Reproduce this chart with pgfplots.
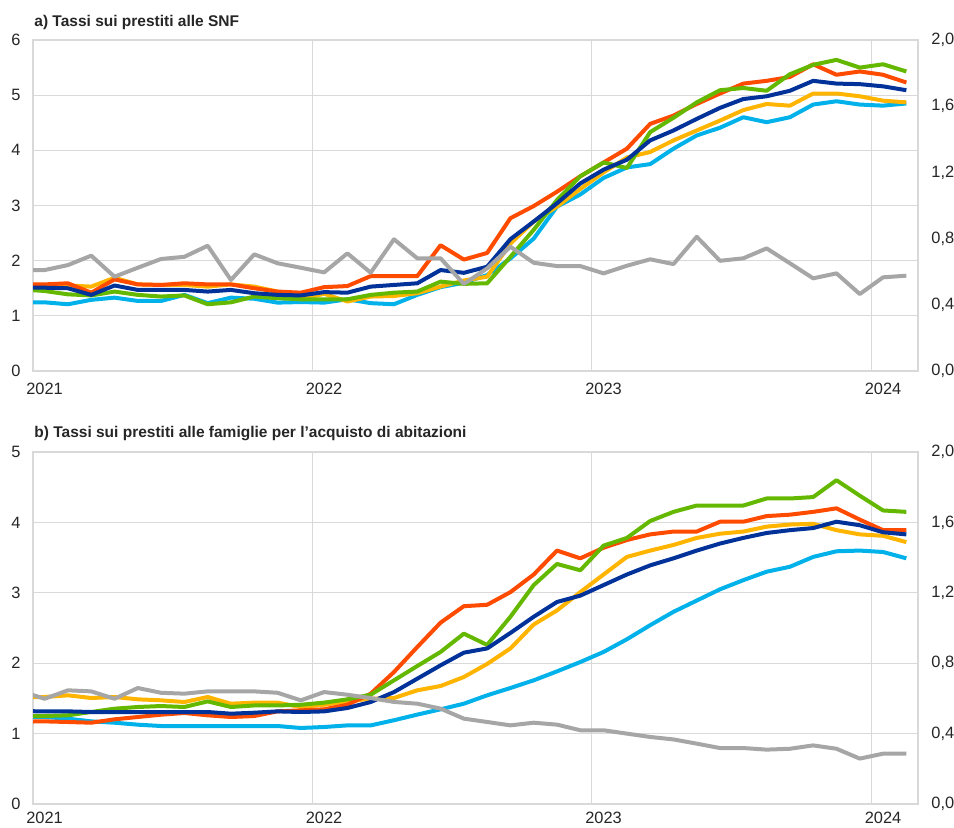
\documentclass[border=0pt]{standalone}
\usepackage{fontspec}
\setmainfont{Liberation Sans}
\usepackage{pgfplots}
\pgfplotsset{compat=1.18}
\usepackage{pgfplotstable}

\definecolor{cblue}{HTML}{003299}
\definecolor{corange}{HTML}{FF4B00}
\definecolor{cyellow}{HTML}{FFB400}
\definecolor{cgreen}{HTML}{65B800}
\definecolor{clblue}{HTML}{00B1EA}
\definecolor{cgray}{HTML}{A6A6A6}
\definecolor{gridc}{HTML}{D9D9D9}
\definecolor{txt}{HTML}{262626}

\pgfplotstableread{
x b o y g l gr
-0.5 1.51 1.57 1.56 1.48 1.245 0.610
0.5 1.51 1.57 1.56 1.45 1.245 0.610
1.5 1.50 1.59 1.55 1.39 1.21 0.640
2.5 1.38 1.42 1.53 1.37 1.29 0.697
3.5 1.55 1.66 1.69 1.44 1.33 0.570
4.5 1.47 1.57 1.57 1.38 1.27 0.624
5.5 1.47 1.56 1.56 1.35 1.27 0.677
6.5 1.47 1.59 1.56 1.37 1.38 0.690
7.5 1.44 1.57 1.53 1.21 1.23 0.757
8.5 1.47 1.57 1.57 1.245 1.33 0.550
9.5 1.41 1.50 1.53 1.35 1.31 0.705
10.5 1.38 1.44 1.44 1.32 1.24 0.651
11.5 1.37 1.42 1.30 1.30 1.25 0.624
12.5 1.43 1.52 1.40 1.30 1.24 0.596
13.5 1.42 1.54 1.26 1.30 1.30 0.711
14.5 1.53 1.72 1.35 1.38 1.23 0.594
15.5 1.56 1.72 1.36 1.42 1.21 0.796
16.5 1.59 1.72 1.41 1.44 1.38 0.681
17.5 1.83 2.28 1.53 1.62 1.52 0.681
18.5 1.78 2.02 1.64 1.58 1.60 0.526
19.5 1.89 2.14 1.71 1.59 1.74 0.620
20.5 2.39 2.77 2.31 2.07 2.04 0.751
21.5 2.71 2.99 2.71 2.56 2.40 0.654
22.5 3.04 3.25 2.98 3.10 2.98 0.634
23.5 3.40 3.53 3.30 3.53 3.20 0.634
24.5 3.65 3.78 3.60 3.78 3.50 0.590
25.5 3.83 4.03 3.87 3.68 3.69 0.636
26.5 4.18 4.48 3.97 4.33 3.75 0.675
27.5 4.36 4.63 4.18 4.59 4.03 0.646
28.5 4.57 4.84 4.36 4.87 4.27 0.811
29.5 4.77 5.03 4.54 5.09 4.41 0.666
30.5 4.93 5.21 4.73 5.13 4.60 0.681
31.5 4.98 5.26 4.84 5.08 4.51 0.741
32.5 5.08 5.33 4.81 5.38 4.60 0.651
33.5 5.26 5.56 5.03 5.55 4.83 0.560
34.5 5.21 5.37 5.03 5.64 4.89 0.590
35.5 5.20 5.43 4.98 5.50 4.83 0.465
36.5 5.16 5.37 4.90 5.56 4.81 0.566
37.5 5.09 5.23 4.87 5.43 4.85 0.576
}\tabA

\pgfplotstableread{
x b o y g l gr
-0.5 1.32 1.17 1.52 1.25 1.24 0.640
0.5 1.316 1.174 1.52 1.25 1.236 0.598
1.5 1.316 1.165 1.544 1.26 1.212 0.646
2.5 1.307 1.155 1.506 1.307 1.174 0.640
3.5 1.307 1.203 1.52 1.354 1.155 0.598
4.5 1.307 1.236 1.487 1.378 1.127 0.659
5.5 1.307 1.269 1.473 1.392 1.108 0.632
6.5 1.307 1.293 1.449 1.378 1.108 0.627
7.5 1.307 1.26 1.52 1.458 1.108 0.640
8.5 1.283 1.236 1.425 1.378 1.108 0.640
9.5 1.297 1.25 1.44 1.40 1.108 0.640
10.5 1.316 1.316 1.44 1.40 1.108 0.632
11.5 1.307 1.33 1.378 1.41 1.08 0.589
12.5 1.316 1.345 1.41 1.44 1.094 0.636
13.5 1.364 1.41 1.458 1.487 1.117 0.621
14.5 1.449 1.567 1.496 1.553 1.117 0.602
15.5 1.59 1.875 1.506 1.757 1.19 0.580
16.5 1.78 2.23 1.615 1.96 1.27 0.570
17.5 1.97 2.576 1.676 2.16 1.345 0.542
18.5 2.15 2.81 1.804 2.42 1.425 0.485
19.5 2.21 2.83 1.99 2.26 1.544 0.466
20.5 2.43 3.01 2.21 2.66 1.648 0.447
21.5 2.66 3.26 2.55 3.11 1.757 0.462
22.5 2.87 3.60 2.75 3.41 1.884 0.451
23.5 2.96 3.49 3.01 3.32 2.017 0.419
24.5 3.11 3.64 3.26 3.67 2.16 0.419
25.5 3.26 3.75 3.51 3.78 2.34 0.400
26.5 3.39 3.83 3.60 4.02 2.54 0.381
27.5 3.49 3.87 3.68 4.15 2.73 0.367
28.5 3.60 3.87 3.78 4.24 2.89 0.343
29.5 3.70 4.01 3.84 4.24 3.05 0.318
30.5 3.78 4.01 3.87 4.24 3.18 0.318
31.5 3.85 4.09 3.94 4.34 3.30 0.309
32.5 3.89 4.11 3.97 4.34 3.37 0.314
33.5 3.92 4.15 3.98 4.36 3.51 0.333
34.5 4.01 4.20 3.89 4.60 3.59 0.314
35.5 3.96 4.04 3.83 4.38 3.60 0.258
36.5 3.86 3.89 3.81 4.17 3.58 0.286
37.5 3.83 3.89 3.72 4.15 3.49 0.286
}\tabB

\pgfplotsset{
  base/.style={
    scale only axis, width=442.5pt, xmin=0, xmax=38,
    anchor=south west,
    major tick length=0pt,
    axis line style={draw=gridc, line width=0.55pt},
    tick label style={font=\fontsize{8.2}{10}\selectfont, text=txt, inner sep=0pt},
    /pgf/number format/assume math mode=true,
    every axis plot/.append style={line width=2pt, line join=round, no markers},
  },
  prim/.style={
    base,
    xtick={0,12,24,36}, xticklabels={2021,2022,2023,2024},
    xticklabel style={xshift=5.8pt, yshift=-6pt},
    yticklabel style={xshift=-6pt},
    xmajorgrids, ymajorgrids,
    grid style={draw=gridc, line width=0.55pt},
  },
  sec/.style={
    base,
    axis x line=none, axis y line*=right,
    ymin=0, ymax=2, ytick={0,0.4,0.8,1.2,1.6,2},
    yticklabel style={xshift=6.5pt, /pgf/number format/.cd, use comma, fixed, fixed zerofill, precision=1},
  },
}

\begin{document}
\begin{tikzpicture}
\path[use as bounding box] (0,0) rectangle (477pt,-413.5pt);

\node[anchor=base west, inner sep=0pt, font=\bfseries\fontsize{7.75}{10}\selectfont, text=txt] at (17pt,-13pt) {a) Tassi sui prestiti alle SNF};
\node[anchor=base west, inner sep=0pt, font=\bfseries\fontsize{7.75}{10}\selectfont, text=txt] at (17pt,-218.5pt) {b) Tassi sui prestiti alle famiglie per l’acquisto di abitazioni};

% Panel a
\begin{axis}[prim, at={(16.5pt,-185.5pt)}, height=165.5pt, ymin=0, ymax=6, ytick={0,1,2,3,4,5,6}]
\addplot[clblue] table[x=x,y=l] {\tabA};
\addplot[cyellow] table[x=x,y=y] {\tabA};
\addplot[corange] table[x=x,y=o] {\tabA};
\addplot[cgreen] table[x=x,y=g] {\tabA};
\addplot[cblue] table[x=x,y=b] {\tabA};
\end{axis}
\begin{axis}[sec, at={(16.5pt,-185.5pt)}, height=165.5pt]
\addplot[cgray] table[x=x,y=gr] {\tabA};
\end{axis}

% Panel b
\begin{axis}[prim, at={(16.5pt,-402pt)}, height=176pt, ymin=0, ymax=5, ytick={0,1,2,3,4,5}, xticklabel style={yshift=2pt}]
\addplot[clblue] table[x=x,y=l] {\tabB};
\addplot[cyellow] table[x=x,y=y] {\tabB};
\addplot[corange] table[x=x,y=o] {\tabB};
\addplot[cgreen] table[x=x,y=g] {\tabB};
\addplot[cblue] table[x=x,y=b] {\tabB};
\end{axis}
\begin{axis}[sec, at={(16.5pt,-402pt)}, height=176pt]
\addplot[cgray] table[x=x,y=gr] {\tabB};
\end{axis}
\end{tikzpicture}
\end{document}
